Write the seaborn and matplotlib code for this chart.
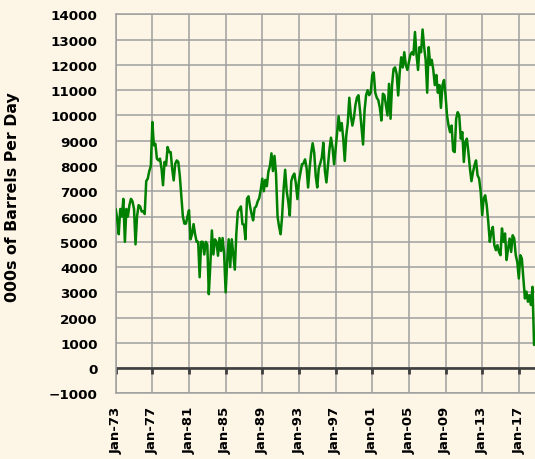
import matplotlib
matplotlib.use("Agg")
import matplotlib.pyplot as plt
import seaborn as sns
import pandas as pd
import numpy as np

# ---- data: US net petroleum imports, 000s of barrels per day (bimonthly readings) ----
imports_1970s = [
    6300, 5900, 5300, 6300, 6000, 6700,    # 1973
    5000, 6300, 6000, 6450, 6700, 6600,    # 1974
    6300, 4900, 6000, 6450, 6400, 6200,    # 1975
    6200, 6100, 7400, 7500, 7800, 8000,    # 1976
    9740, 8820, 8880, 8290, 8220, 8290,    # 1977
    7900, 7240, 8160, 8030, 8750, 8550,    # 1978
    8550, 7900, 7430, 8090, 8220, 8160,    # 1979
]
imports_1980s = [
    7600, 6800, 6000, 5720, 5720, 6000,    # 1980
    6250, 5100, 5300, 5700, 5300, 5000,    # 1981
    5000, 3600, 5000, 5000, 4500, 5000,    # 1982
    4900, 2930, 4100, 5450, 4500, 5100,    # 1983
    5000, 4450, 5150, 4640, 5150, 4500,    # 1984
    3000, 4200, 5100, 4000, 5100, 4500,    # 1985
    3900, 5300, 6200, 6300, 6400, 5700,    # 1986
    5680, 5100, 6700, 6800, 6400, 6100,    # 1987
    5850, 6340, 6400, 6600, 6730, 7060,    # 1988
    7500, 7000, 7450, 7200, 7780, 8000,    # 1989
]
imports_1990s = [
    8500, 7800, 8400, 7700, 6000, 5600,    # 1990
    5300, 6000, 7100, 7850, 7000, 6600,    # 1991
    6040, 7400, 7600, 7700, 7300, 6690,    # 1992
    7400, 7740, 8070, 8100, 8260, 7930,    # 1993
    7150, 7900, 8500, 8900, 8530, 7600,    # 1994
    7150, 7900, 8100, 8330, 8920, 7810,    # 1995
    7350, 8000, 8660, 9120, 8730, 8070,    # 1996
    8660, 9300, 9970, 9400, 9700, 9100,    # 1997
    8200, 9200, 9700, 10700, 10000, 9600,  # 1998
    9900, 10400, 10700, 10800, 10200, 9500,  # 1999
]
imports_2000s = [
    8850, 10200, 10800, 11000, 10800, 10900,   # 2000
    11600, 11700, 10900, 10700, 10600, 10300,  # 2001
    9800, 10860, 10800, 10400, 10000, 11250,   # 2002
    9870, 11200, 11840, 11900, 11640, 10790,   # 2003
    11700, 12300, 11900, 12500, 12000, 11800,  # 2004
    12100, 12400, 12500, 12400, 13300, 12400,  # 2005
    11800, 12700, 12500, 13400, 12700, 12200,  # 2006
    10900, 12700, 12000, 12200, 11800, 11200,  # 2007
    11600, 10900, 11200, 10300, 11200, 11400,  # 2008
    10800, 10000, 9600, 9340, 9600, 8600,      # 2009
]
imports_2010s = [
    8550, 9870, 10130, 10000, 9080, 9340,  # 2010
    8160, 8950, 9080, 8550, 7900, 7400,    # 2011
    7760, 8030, 8220, 7630, 7500, 7000,    # 2012
    6050, 6710, 6840, 6450, 5790, 5000,    # 2013
    5390, 5590, 4870, 4670, 4870, 4600,    # 2014
    4470, 5530, 5000, 5330, 4280, 4740,    # 2015
    5130, 4600, 5260, 5130, 4470, 4200,    # 2016
    3550, 4470, 4340, 3550, 2760, 3030,    # 2017
    2630, 2890, 2500, 3220, 920,           # 2018
]
tick_years = list(range(1973, 2018, 4))
tick_labels = [f"Jan-{y % 100:02d}" for y in tick_years]
y_ticks = list(range(-1000, 14001, 1000))
y_label = "000s of Barrels Per Day"

values = imports_1970s + imports_1980s + imports_1990s + imports_2000s + imports_2010s
dates = pd.date_range("1973-01-01", periods=len(values), freq="2MS")
df = pd.DataFrame({"date": dates, "kbd": values})

# ---- style ----
sns.set_theme(style="white")
plt.rcParams["font.family"] = ["DejaVu Sans"]
plt.rcParams["font.weight"] = "bold"
bg = "#FDF5E6"
grid_c = "#A0A0A0"

fig, ax = plt.subplots(figsize=(5.35, 4.6), dpi=100)
fig.subplots_adjust(left=0.2163, right=1.0, bottom=0.1424, top=0.9667)
fig.patch.set_facecolor(bg)
ax.set_facecolor(bg)

sns.lineplot(data=df, x="date", y="kbd", ax=ax, color="#008000", lw=1.8, zorder=3)

tick_dates = [pd.Timestamp(f"{y}-01-01") for y in tick_years]
# gridlines at the tick positions
for v in y_ticks:
    ax.axhline(v, color=grid_c, lw=1.1, ls="-", zorder=2.1)
for d in tick_dates:
    ax.axvline(d, color=grid_c, lw=1.1, ls="-", zorder=2.1)

ax.set_ylim(-1000, 14000)
ax.set_yticks(y_ticks)
ax.set_xlim(pd.Timestamp("1973-01-01"), pd.Timestamp("2018-10-08"))
ax.set_xticks(tick_dates)
ax.set_xticklabels(tick_labels, rotation=90, fontsize=9.5, fontweight="bold", color="black")
for lbl in ax.get_yticklabels():
    lbl.set_fontsize(9.7)
    lbl.set_fontweight("bold")
    lbl.set_color("black")

for side in ["left", "top", "bottom"]:
    ax.spines[side].set_color(grid_c)
    ax.spines[side].set_linewidth(1.1)
ax.spines["right"].set_visible(False)

ax.tick_params(axis="y", length=0, pad=13)
ax.tick_params(axis="x", length=0, pad=9)

ax.set_xlabel("")
ax.set_ylabel(y_label, fontsize=11.3, fontweight="bold", color="black")
ax.yaxis.set_label_coords(-0.228, 0.52)

# zero axis line with tick marks
ax.axhline(0, color="#3F3F3F", lw=1.9, ls="-", zorder=2.2)
ax.plot(tick_dates, np.zeros(len(tick_dates)), ls="none", marker=3, ms=4,
        mew=2, color="#3F3F3F", zorder=2.2)

fig.savefig("out.png", dpi=100, facecolor=bg)
